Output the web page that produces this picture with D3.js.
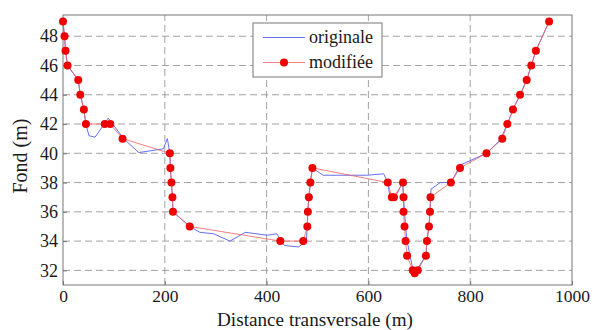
<!DOCTYPE html>
<html>
<head>
<meta charset="utf-8">
<script src="https://cdn.jsdelivr.net/npm/d3@7"></script>
<style>
  body { margin: 0; background: #fff; }
  svg text { font-family: "Liberation Serif", "DejaVu Serif", serif !important; fill: #1a1a1a; }
</style>
</head>
<body>
<svg id="chart" width="593" height="330"></svg>
<script>
// profil modifie (points rouges)
var modX = [0, 3, 5, 9, 30, 34, 41, 45, 82, 93, 117, 210, 211, 213, 215, 216, 249,
  427, 472, 480, 481, 483, 486, 490, 638, 646, 650, 668, 669, 669, 671, 673, 676,
  687, 691, 697, 713, 715, 719, 721, 722, 762, 780, 832, 863, 873, 884, 898, 911, 920, 929, 955];
var modY = [49, 48, 47, 46, 45, 44, 43, 42, 42, 42, 41, 40, 39, 38, 37, 36, 35,
  34, 34, 35, 36, 37, 38, 39, 38, 37, 37, 38, 37, 36, 35, 34, 33,
  32, 31.8, 32, 33, 34, 35, 36, 37, 38, 39, 40, 41, 42, 43, 44, 45, 46, 47, 49];

// profil original (ligne bleue)
var origX = [0, 3, 5, 9, 30, 34, 41, 45, 51, 63, 89, 119, 149, 197, 205, 210, 211, 213, 215, 216, 249,
  269, 296, 328, 358, 401, 420, 435, 463, 478, 480, 481, 483, 486, 490, 511, 581, 597, 630, 638,
  643, 653, 667, 669, 671, 673, 676, 686, 691, 698, 713, 715, 719, 721, 723, 741, 762, 781, 800, 832,
  859, 873, 884, 898, 911, 920, 929, 955];
var origY = [49, 48, 47, 46, 45, 44, 43, 42, 41.2, 41.1, 42.4, 41, 40.05, 40.3, 41, 40, 39, 38, 37, 36, 35,
  34.6, 34.5, 34, 34.6, 34.4, 34.5, 33.7, 33.6, 34, 35, 36, 37, 38, 39, 38.5, 38.5, 38.5, 38.6, 38,
  36.9, 37, 38, 37, 36, 35, 34, 32.3, 31.8, 32.2, 33, 34, 35, 36, 37.55, 38, 38, 39.2, 39.5, 40,
  40.9, 42, 43, 44, 45, 46, 47, 49];

var xTicks = [0, 200, 400, 600, 800, 1000];
var yTicks = [32, 34, 36, 38, 40, 42, 44, 46, 48];
var legendLabels = ["originale", "modifiée"];

var serif = "Liberation Serif, DejaVu Serif, serif";
var margin = { left: 63, top: 15, right: 21, bottom: 45 };
var W = 593, H = 330;
var svg = d3.select("#chart");

var x = d3.scaleLinear().domain([0, 1000]).range([margin.left, W - margin.right]);
var y = d3.scaleLinear().domain([31, 49.45]).range([H - margin.bottom, margin.top]);

// grille pointillee
var grid = svg.append("g");
grid.selectAll(".gx").data(xTicks.slice(1, -1)).enter().append("line")
  .attr("x1", d => x(d)).attr("x2", d => x(d))
  .attr("y1", y.range()[0]).attr("y2", y.range()[1])
  .attr("stroke", "#8a8a8a").attr("stroke-width", 0.8).attr("stroke-dasharray", "7,4");
grid.selectAll(".gy").data(yTicks).enter().append("line")
  .attr("y1", d => y(d)).attr("y2", d => y(d))
  .attr("x1", x.range()[0]).attr("x2", x.range()[1])
  .attr("stroke", "#8a8a8a").attr("stroke-width", 0.8).attr("stroke-dasharray", "7,4");

// axes
var fmt = d3.format("d");
var xAxis = svg.append("g").attr("transform", "translate(0," + y.range()[0] + ")")
  .call(d3.axisBottom(x).tickValues(xTicks).tickFormat(fmt).tickSize(-4).tickPadding(5));
var yAxis = svg.append("g").attr("transform", "translate(" + x.range()[0] + ",0)")
  .call(d3.axisLeft(y).tickValues(yTicks).tickFormat(fmt).tickSize(-4).tickPadding(5));
[xAxis, yAxis].forEach(function (g) {
  g.attr("font-family", serif).attr("font-size", 18);
  g.select(".domain").remove();
  g.selectAll("line").attr("stroke", "#777");
  g.selectAll("text").attr("fill", "#1a1a1a");
});
xAxis.attr("font-size", 17.5);
// cadre
svg.append("rect")
  .attr("x", x.range()[0]).attr("y", y.range()[1])
  .attr("width", x.range()[1] - x.range()[0]).attr("height", y.range()[0] - y.range()[1])
  .attr("fill", "none").attr("stroke", "#777").attr("stroke-width", 1);

// courbes
var line = d3.line().x(d => x(d[0])).y(d => y(d[1]));
var orig = d3.zip(origX, origY);
var mod = d3.zip(modX, modY);

svg.append("path").attr("d", line(orig))
  .attr("fill", "none").attr("stroke", "#5560ee").attr("stroke-width", 0.9);
svg.append("path").attr("d", line(mod))
  .attr("fill", "none").attr("stroke", "#f06060").attr("stroke-width", 0.8);
svg.append("g").selectAll("circle").data(mod).enter().append("circle")
  .attr("cx", d => x(d[0])).attr("cy", d => y(d[1])).attr("r", 4)
  .attr("fill", "#ee0000");

// legende
var lg = svg.append("g").attr("transform", "translate(253,23)");
lg.append("rect").attr("width", 129).attr("height", 54)
  .attr("fill", "#fff").attr("stroke", "#777").attr("stroke-width", 1);
lg.append("line").attr("x1", 10).attr("x2", 52).attr("y1", 14.5).attr("y2", 14.5)
  .attr("stroke", "#5560ee").attr("stroke-width", 0.9);
lg.append("line").attr("x1", 10).attr("x2", 52).attr("y1", 39.5).attr("y2", 39.5)
  .attr("stroke", "#f06060").attr("stroke-width", 0.8);
lg.append("circle").attr("cx", 31).attr("cy", 39.5).attr("r", 4).attr("fill", "#ee0000");
lg.selectAll("text").data(legendLabels).enter().append("text")
  .attr("x", 56).attr("y", (d, i) => 20 + i * 25)
  .attr("font-family", serif).attr("font-size", 18).text(d => d);

// titres
svg.append("text").attr("x", 315).attr("y", 326)
  .attr("text-anchor", "middle").attr("font-family", serif).attr("font-size", 18)
  .attr("textLength", 196).attr("lengthAdjust", "spacingAndGlyphs")
  .text("Distance transversale (m)");
svg.append("text").attr("transform", "translate(27,156) rotate(-90)")
  .attr("text-anchor", "middle").attr("font-family", serif).attr("font-size", 20)
  .text("Fond (m)");
</script>
</body>
</html>
